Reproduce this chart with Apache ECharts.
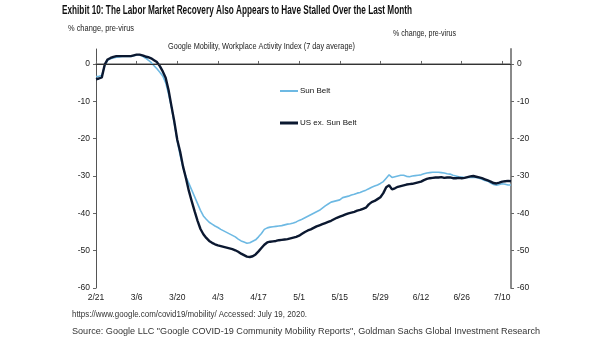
<!DOCTYPE html>
<html><head><meta charset="utf-8">
<script src="https://cdn.jsdelivr.net/npm/echarts@6/dist/echarts.min.js"></script>
<style>html,body{margin:0;padding:0;background:#fff}#c{width:605px;height:341px}</style>
</head><body><div id="c"></div>
<script>
// Dates: daily from 2/21/2020 through 7/13/2020
const startDate = [2020, 1, 21];
const dayCount = 144;
const tickLabelEvery = 14;
const yTicks = [-60, -50, -40, -30, -20, -10, 0];

const sunBelt = [
-3.4,-3.3,-3.1,-0.5,1.0,1.4,1.6,1.8,1.9,2.0,2.0,2.0,2.0,2.2,2.4,2.4,2.1,1.6,1.0,0.4,
-0.5,-1.3,-2.2,-3.2,-5.0,-8.0,-11.6,-16.0,-20.6,-24.5,-27.8,-30.2,-32.0,-33.8,-35.6,-37.4,-39.2,-40.7,-41.6,-42.4,
-42.9,-43.4,-43.8,-44.3,-44.7,-45.1,-45.5,-45.9,-46.3,-46.9,-47.4,-47.7,-48.0,-47.9,-47.5,-47.1,-46.3,-45.4,-44.3,-43.9,
-43.7,-43.6,-43.5,-43.4,-43.3,-43.1,-42.9,-42.8,-42.6,-42.3,-41.9,-41.6,-41.2,-40.8,-40.4,-40.0,-39.6,-39.2,-38.6,-38.0,
-37.5,-37.0,-36.8,-36.6,-36.4,-35.8,-35.6,-35.4,-35.1,-34.9,-34.6,-34.4,-34.1,-33.8,-33.4,-33.0,-32.7,-32.4,-32.0,-31.5,
-30.6,-29.7,-30.4,-30.2,-30.0,-29.8,-29.8,-30.1,-30.2,-30.0,-29.9,-29.8,-29.7,-29.4,-29.2,-29.1,-29.0,-29.0,-29.0,-29.1,
-29.2,-29.4,-29.5,-29.8,-30.0,-30.2,-30.3,-30.4,-30.4,-30.4,-30.4,-30.4,-30.6,-30.9,-31.2,-31.4,-31.9,-32.3,-32.5,-32.3,
-32.1,-32.2,-32.4,-32.4
];
const usExSunBelt = [
-4.1,-3.9,-3.6,-0.2,1.2,1.6,1.9,2.1,2.1,2.1,2.1,2.1,2.1,2.3,2.5,2.5,2.3,2.0,1.8,1.5,
1.0,0.5,-0.6,-2.0,-3.7,-7.0,-11.3,-15.5,-20.3,-23.5,-27.5,-30.6,-34.0,-36.8,-39.5,-42.0,-44.2,-45.6,-46.6,-47.4,
-47.9,-48.3,-48.6,-48.8,-49.0,-49.2,-49.4,-49.6,-49.9,-50.3,-50.8,-51.2,-51.6,-51.7,-51.5,-51.0,-50.2,-49.3,-48.4,-47.8,
-47.6,-47.5,-47.4,-47.2,-47.1,-47.0,-46.9,-46.7,-46.5,-46.3,-46.0,-45.5,-45.0,-44.6,-44.3,-43.9,-43.5,-43.2,-42.9,-42.6,
-42.3,-42.0,-41.6,-41.2,-40.9,-40.6,-40.3,-40.0,-39.8,-39.6,-39.3,-39.1,-38.8,-38.5,-37.6,-37.0,-36.7,-36.2,-35.7,-34.6,
-33.0,-32.5,-33.6,-33.3,-32.9,-32.7,-32.5,-32.3,-32.2,-32.1,-31.9,-31.7,-31.5,-31.1,-30.8,-30.6,-30.5,-30.4,-30.4,-30.3,
-30.5,-30.4,-30.4,-30.6,-30.6,-30.5,-30.6,-30.5,-30.3,-30.1,-30.0,-30.2,-30.4,-30.6,-30.9,-31.2,-31.5,-31.9,-32.0,-31.8,
-31.5,-31.4,-31.3,-31.4
];

const titleText = 'Exhibit 10: The Labor Market Recovery Also Appears to Have Stalled Over the Last Month';
const axisNameText = '% change, pre-virus';
const subtitleText = 'Google Mobility, Workplace Activity Index (7 day average)';
const footerLines = [
  'https://www.google.com/covid19/mobility/ Accessed: July 19, 2020.',
  'Source: Google LLC "Google COVID-19 Community Mobility Reports", Goldman Sachs Global Investment Research'
];

const categories = [];
for (let i = 0; i < dayCount; i++) {
  const d = new Date(startDate[0], startDate[1], startDate[2] + i);
  categories.push((d.getMonth() + 1) + '/' + d.getDate());
}

const FONT = 'Liberation Sans';
const measureCtx = document.createElement('canvas').getContext('2d');
// Text rendered condensed (narrow typeface look) by horizontal scaling to a target width
function narrowText(text, x, y, targetWidth, size, weight, color) {
  const font = (weight || 'normal') + ' ' + size + 'px "' + FONT + '"';
  measureCtx.font = font;
  const w = measureCtx.measureText(text).width;
  return {
    type: 'text', x: x, y: y, scaleX: targetWidth / w, silent: true,
    style: {text: text, fontFamily: FONT, fontSize: size, fontWeight: weight || 'normal',
            fill: color, align: 'left', verticalAlign: 'middle'}
  };
}

const chart = echarts.init(document.getElementById('c'), null, {renderer: 'canvas'});
const showTick = (i) => i % tickLabelEvery === 0;
const yAxisCommon = {
  type: 'value', min: -60, max: 4,
  splitLine: {show: false},
  axisTick: {show: true, length: 3, customValues: yTicks, lineStyle: {color: '#666'}},
  axisLabel: {customValues: yTicks, fontFamily: FONT, fontSize: 8.5, color: '#222', margin: 6}
};
chart.setOption({
  animation: false,
  graphic: [
    narrowText(titleText, 62, 11, 350, 12.5, 'bold', '#111'),
    narrowText(axisNameText, 68, 28, 66, 9.5, 'normal', '#222'),
    narrowText(axisNameText, 393, 33, 63, 9.5, 'normal', '#222'),
    narrowText(subtitleText, 168, 46, 187, 9.5, 'normal', '#222'),
    narrowText(footerLines[0], 72, 314, 235, 9.5, 'normal', '#333'),
    narrowText(footerLines[1], 72, 331, 468, 9.5, 'normal', '#333')
  ],
  legend: [
    {data: ['Sun Belt'], left: 280, top: 87, padding: 0, orient: 'vertical', icon: 'rect', itemWidth: 18, itemHeight: 2, itemGap: 4,
     textStyle: {fontFamily: FONT, fontSize: 8, color: '#111', padding: [0,0,0,-3]}},
    {data: ['US ex. Sun Belt'], left: 280, top: 119, padding: 0, orient: 'vertical', icon: 'rect', itemWidth: 18, itemHeight: 3, itemGap: 4,
     textStyle: {fontFamily: FONT, fontSize: 8, color: '#111', padding: [0,0,0,-3]}}
  ],
  grid: {left: 96, right: 94, top: 49, bottom: 53, containLabel: false},
  xAxis: {
    type: 'category', data: categories, boundaryGap: false,
    axisLine: {lineStyle: {color: '#888', width: 1.5}},
    axisTick: {show: true, inside: true, length: 3, interval: showTick, lineStyle: {color: '#666'}},
    axisLabel: {interval: showTick, fontFamily: FONT, fontSize: 8.5, color: '#222', margin: 5}
  },
  yAxis: [
    Object.assign({}, yAxisCommon, {position: 'left', axisLine: {show: true, lineStyle: {color: '#555', width: 1}}}),
    Object.assign({}, yAxisCommon, {position: 'right', axisLine: {show: true, lineStyle: {color: '#8a8a8a', width: 2}}})
  ],
  series: [
    {name: 'Sun Belt', type: 'line', data: sunBelt, showSymbol: false, smooth: false,
     lineStyle: {color: '#6db9e3', width: 1.6}, itemStyle: {color: '#6db9e3'},
     markLine: {silent: true, symbol: 'none', label: {show: false}, lineStyle: {color: '#333', width: 1, type: 'solid'}, data: [{yAxis: 0}]}},
    {name: 'US ex. Sun Belt', type: 'line', data: usExSunBelt, showSymbol: false, smooth: false,
     lineStyle: {color: '#0b1830', width: 2.4}, itemStyle: {color: '#0b1830'}}
  ]
});
</script></body></html>
